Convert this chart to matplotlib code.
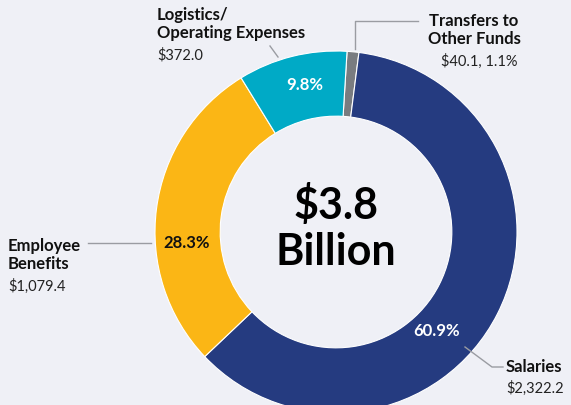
import matplotlib
matplotlib.use("Agg")
import matplotlib.pyplot as plt

categories = ["Transfers to\nOther Funds", "Salaries", "Employee\nBenefits", "Logistics/\nOperating Expenses"]
values = [40.1, 2322.2, 1079.4, 372.0]
pct_labels = ["", "60.9%", "28.3%", "9.8%"]
amount_labels = ["$40.1, 1.1%", "$2,322.2", "$1,079.4", "$372.0"]
colors = ["#797c80", "#253b80", "#fbb615", "#00aac6"]
total_label = "$3.8\nBillion"

bg = "#eff0f6"
plt.rcParams['font.family'] = ['Lato', 'DejaVu Sans']

fig = plt.figure(figsize=(5.71, 4.06), dpi=100, facecolor=bg)
ax = fig.add_axes([0, 0, 1, 1])
ax.set_facecolor(bg)

H = 406
cx, cy = 336, H - 233
R = 181
ax.pie(values, colors=colors, startangle=86.5, counterclock=False,
       center=(cx, cy), radius=R, frame=True,
       wedgeprops=dict(width=R * 0.36, edgecolor='white', linewidth=0.8))
ax.set_xlim(0, 571)
ax.set_ylim(0, 406)
ax.set_aspect('equal')
ax.axis('off')

pf = 12
# percent labels
ax.text(437, H - 331, pct_labels[1], color='white', fontsize=pf, fontweight='bold', ha='center', va='center')
ax.text(187, H - 243, pct_labels[2], color='#111111', fontsize=pf, fontweight='bold', ha='center', va='center')
ax.text(305, H - 85, pct_labels[3], color='white', fontsize=pf, fontweight='bold', ha='center', va='center')

# center text
ax.text(cx, H - 205, total_label.split("\n")[0], fontsize=31, fontweight='bold', ha='center', va='center', color='black')
ax.text(cx, H - 252, total_label.split("\n")[1], fontsize=31, fontweight='bold', ha='center', va='center', color='black')

lc = '#9a9ca2'
lf = 12
af = 10.5
tc = '#111111'
ac = '#222222'
# Logistics
ax.text(157, H - 24, categories[3], fontsize=lf, fontweight='bold', ha='left', va='center', linespacing=1.1, color=tc)
ax.text(157, H - 55, amount_labels[3], fontsize=af, ha='left', va='center', color=ac)
ax.plot([270, 278], [H - 47, H - 58], color=lc, lw=1)

# Transfers
ax.text(474, H - 30, categories[0], fontsize=lf, fontweight='bold', ha='center', va='center', linespacing=1.2, color=tc)
ax.text(479, H - 61, amount_labels[0], fontsize=af, ha='center', va='center', color=ac)
ax.plot([418, 355, 355], [H - 22, H - 22, H - 50], color=lc, lw=1)

# Benefits
ax.text(8, H - 255, categories[2], fontsize=lf, fontweight='bold', ha='left', va='center', linespacing=1.1, color=tc)
ax.text(8, H - 286, amount_labels[2], fontsize=af, ha='left', va='center', color=ac)
ax.plot([88, 151], [H - 244, H - 244], color=lc, lw=1)

# Salaries
ax.text(506, H - 367, categories[1], fontsize=lf, fontweight='bold', ha='left', va='center', color=tc)
ax.text(506, H - 388, amount_labels[1], fontsize=af, ha='left', va='center', color=ac)
ax.plot([465, 492, 503], [H - 348, H - 368, H - 368], color=lc, lw=1)

fig.savefig("out.png", dpi=100, facecolor=bg)
